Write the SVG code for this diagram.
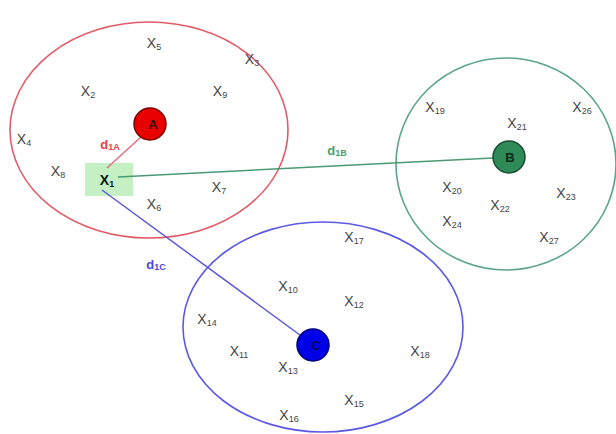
<svg xmlns="http://www.w3.org/2000/svg" width="616" height="434" viewBox="0 0 616 434">
<style>
.pt{font-family:"Liberation Sans",Arial,sans-serif;font-size:14px;fill:#444;text-anchor:middle}
.sub{font-size:9px}
.lbl{font-family:"Liberation Sans",Arial,sans-serif;font-size:13px;font-weight:bold;text-anchor:middle}
.cl{fill:none;stroke-width:1.6}
</style>
<rect width="616" height="434" fill="#fff"/>
<g id="clusters">
<ellipse id="clusterA" class="cl" cx="149" cy="130" rx="139" ry="108" stroke="#e35a66"/>
<ellipse id="clusterB" class="cl" cx="506" cy="164" rx="110" ry="106" stroke="#5aa58a"/>
<ellipse id="clusterC" class="cl" cx="323" cy="327" rx="140" ry="105" stroke="#5a5ae6"/>
</g>
<g id="x1">
<rect x="85" y="163" width="48" height="33" fill="#c4f0c4"/>
</g>
<g id="connectors" stroke-width="1.5">
<line x1="107" y1="168" x2="141" y2="137" stroke="#e07080"/>
<line x1="118" y1="177" x2="493" y2="158" stroke="#4a9a74"/>
<line x1="102" y1="190" x2="300" y2="335" stroke="#5a5ad8"/>
<text class="lbl" x="110" y="149" fill="#e8404a">d<tspan class="sub" dy="1">1A</tspan></text>
<text class="lbl" x="337" y="155" fill="#4aa070">d<tspan class="sub" dy="1">1B</tspan></text>
<text class="lbl" x="156" y="269" fill="#4a4ad8">d<tspan class="sub" dy="1">1C</tspan></text>
</g>
<g id="A">
<circle cx="150" cy="124" r="16" fill="#e80000" stroke="#7a0000" stroke-width="1.5"/>
<text class="lbl" x="153" y="129" fill="#3a0000">A</text>
</g>
<g id="B">
<circle cx="509" cy="157" r="16" fill="#2e8b57" stroke="#1a4a30" stroke-width="1.5"/>
<text class="lbl" x="510" y="162" fill="#0a2a18">B</text>
</g>
<g id="C">
<circle cx="313" cy="345" r="16" fill="#0000e8" stroke="#00007a" stroke-width="1.5"/>
<text class="lbl" x="316" y="350" fill="#00006a">C</text>
</g>
<g id="points">
<text class="pt" x="107" y="185" style="font-weight:bold;fill:#111">X<tspan class="sub" dy="2">1</tspan></text>
<text class="pt" x="154" y="48">X<tspan class="sub" dy="2">5</tspan></text>
<text class="pt" x="252" y="64">X<tspan class="sub" dy="2">3</tspan></text>
<text class="pt" x="88" y="96">X<tspan class="sub" dy="2">2</tspan></text>
<text class="pt" x="220" y="96">X<tspan class="sub" dy="2">9</tspan></text>
<text class="pt" x="24" y="144">X<tspan class="sub" dy="2">4</tspan></text>
<text class="pt" x="58" y="176">X<tspan class="sub" dy="2">8</tspan></text>
<text class="pt" x="219" y="192">X<tspan class="sub" dy="2">7</tspan></text>
<text class="pt" x="154" y="209">X<tspan class="sub" dy="2">6</tspan></text>
<text class="pt" x="435" y="112">X<tspan class="sub" dy="2">19</tspan></text>
<text class="pt" x="582" y="112">X<tspan class="sub" dy="2">26</tspan></text>
<text class="pt" x="517" y="128">X<tspan class="sub" dy="2">21</tspan></text>
<text class="pt" x="452" y="192">X<tspan class="sub" dy="2">20</tspan></text>
<text class="pt" x="566" y="198">X<tspan class="sub" dy="2">23</tspan></text>
<text class="pt" x="500" y="210">X<tspan class="sub" dy="2">22</tspan></text>
<text class="pt" x="452" y="226">X<tspan class="sub" dy="2">24</tspan></text>
<text class="pt" x="549" y="242">X<tspan class="sub" dy="2">27</tspan></text>
<text class="pt" x="354" y="242">X<tspan class="sub" dy="2">17</tspan></text>
<text class="pt" x="288" y="291">X<tspan class="sub" dy="2">10</tspan></text>
<text class="pt" x="354" y="306">X<tspan class="sub" dy="2">12</tspan></text>
<text class="pt" x="207" y="324">X<tspan class="sub" dy="2">14</tspan></text>
<text class="pt" x="239" y="356">X<tspan class="sub" dy="2">11</tspan></text>
<text class="pt" x="420" y="356">X<tspan class="sub" dy="2">18</tspan></text>
<text class="pt" x="288" y="372">X<tspan class="sub" dy="2">13</tspan></text>
<text class="pt" x="354" y="405">X<tspan class="sub" dy="2">15</tspan></text>
<text class="pt" x="289" y="420">X<tspan class="sub" dy="2">16</tspan></text>
</g>
</svg>
